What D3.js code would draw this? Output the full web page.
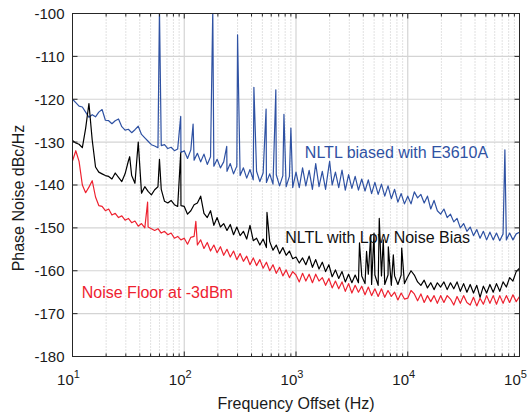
<!DOCTYPE html>
<html>
<head>
<meta charset="utf-8">
<script src="https://cdn.jsdelivr.net/npm/d3@7"></script>
<style>
  body { margin: 0; background: #fff; }
  svg { font-family: "Liberation Sans", Arial, sans-serif; }
  .tick-label { font-size: 15px; fill: #1a1a1a; }
  .axis-title { font-size: 16px; fill: #1a1a1a; }
  .trace-label { font-size: 16px; }
</style>
</head>
<body>
<div id="chart"></div>
<script>
var svgWidth = 531,
	svgHeight = 414;

var margin = { t: 13.5, r: 11.5, b: 57.5, l: 72.5 };

var width = svgWidth - margin.l - margin.r,
	height = svgHeight - margin.t - margin.b;

// ---------------------------------------------------------------
// data
// ---------------------------------------------------------------

// offset frequency grid, Hz
var freqGrid = [
	10, 10.7, 11.45, 12.25, 13.11, 14.03, 15.01, 16.07, 17.19, 18.4, 19.69, 21.07, 22.54, 24.12, 25.81, 27.62, 29.55,
	31.62, 33.84, 36.21, 38.75, 41.46, 44.37, 47.48, 50.8, 54.37, 58.18, 62.25, 66.61, 71.28, 76.27, 81.62, 87.33, 93.45,
	100, 107, 114.5, 122.5, 131.1, 140.3, 150.1, 160.7, 171.9, 184, 196.9, 210.7, 225.4, 241.2, 258.1, 276.2, 295.5,
	316.2, 338.4, 362.1, 387.5, 414.6, 443.7, 474.8, 508, 543.7, 581.8, 622.5, 666.1, 712.8, 762.7, 816.2, 873.3, 934.5,
	1000, 1070, 1145, 1225, 1311, 1403, 1501, 1607, 1719, 1840, 1969, 2107, 2254, 2412, 2581, 2762, 2955,
	3162, 3384, 3621, 3875, 4146, 4437, 4748, 5080, 5437, 5818, 6225, 6661, 7128, 7627, 8162, 8733, 9345,
	10000, 10700, 11450, 12250, 13110, 14030, 15010, 16070, 17190, 18400, 19690, 21070, 22540, 24120, 25810, 27620, 29550,
	31620, 33840, 36210, 38750, 41460, 44370, 47480, 50800, 54370, 58180, 62250, 66610, 71280, 76270, 81620, 87330, 93450,
	100000
];

// NLTL biased with E3610A, dBc/Hz
var biasedE3610A = [
	-120.0, -120.8, -121.6, -121.8, -123.0, -124.2, -123.6, -124.1, -123.0, -122.4, -124.9, -125.0, -125.7, -125.0, -124.6, -126.4, -127.2,
	-127.0, -127.8, -127.1, -126.3, -128.2, -129.0, -129.8, -130.6, -130.9, -131.3, -130.8, -130.6, -131.5, -131.2, -132.0, -131.6, -132.4,
	-132.0, -133.8, -131.8, -134.2, -132.6, -134.6, -132.8, -135.2, -133.4, -135.6, -134.0, -136.0, -134.6, -136.8, -135.0, -137.4, -135.6,
	-137.8, -136.0, -138.4, -136.4, -138.8, -136.8, -139.2, -137.2, -139.4, -137.4, -139.8, -137.6, -140.2, -137.8, -140.4, -138.0, -140.6,
	-137.0, -140.6, -136.0, -140.2, -136.6, -141.0, -135.0, -140.4, -136.8, -141.0, -135.6, -140.0, -137.0, -140.6, -136.5, -141.2, -137.6,
	-140.8, -138.0, -141.2, -138.6, -141.4, -138.8, -142.0, -139.4, -142.2, -139.8, -142.6, -140.2, -143.2, -141.0, -144.0, -142.0, -144.4,
	-142.6, -144.4, -141.6, -143.0, -142.2, -144.2, -142.6, -145.6, -143.6, -146.0, -146.8, -145.6, -147.6, -146.8, -148.6, -147.8, -150.0,
	-149.0, -150.8, -149.8, -151.8, -150.4, -152.4, -150.8, -152.8, -151.0, -152.8, -151.2, -153.0, -151.4, -152.8, -151.2, -152.8, -151.4,
	-151.0
];
var biasedSpikes = [
	[60, -99], [93, -124], [120, -125.8], [180, -99], [240, -131], [300, -105], [420, -117.2],
	[540, -122.3], [660, -117.8], [780, -123.5], [900, -126.7], [2000, -134.5], [74000, -131.8]
];

// NLTL with Low Noise Bias, dBc/Hz
var lowNoiseBias = [
	-129.6, -130.2, -130.5, -131.3, -126.8, -121.0, -129.5, -135.8, -137.0, -137.4, -137.8, -138.0, -138.6, -137.2, -138.2, -139.2, -137.4,
	-134.4, -137.8, -139.6, -130.0, -141.9, -140.4, -141.5, -142.3, -141.1, -140.4, -141.0, -143.8, -144.2, -143.6, -144.6, -145.0, -144.8,
	-145.0, -146.8, -146.0, -144.6, -144.2, -142.6, -146.6, -147.6, -146.0, -149.4, -147.6, -149.8, -149.0, -150.6, -149.2, -151.6, -149.8,
	-151.8, -150.8, -152.6, -149.4, -153.0, -152.4, -154.0, -152.6, -154.6, -153.2, -155.2, -154.0, -156.0, -154.6, -156.4, -155.4, -157.2,
	-156.8, -158.2, -157.0, -158.6, -156.6, -159.2, -157.4, -159.6, -158.0, -160.2, -158.6, -161.4, -159.8, -161.8, -160.2, -162.6, -160.8,
	-162.8, -161.0, -162.8, -161.2, -163.0, -160.8, -163.2, -161.0, -163.4, -161.2, -163.2, -161.0, -163.4, -161.2, -163.2, -161.0, -163.0,
	-161.4, -160.0, -161.0, -162.6, -163.4, -162.2, -164.0, -162.8, -164.4, -162.8, -163.8, -162.6, -164.4, -162.8, -164.2, -162.6, -164.8,
	-163.0, -165.0, -163.2, -165.2, -163.4, -166.2, -163.6, -165.2, -163.2, -165.0, -163.0, -164.8, -162.6, -163.8, -161.6, -162.4, -160.2,
	-159.4
];
var lowNoiseSpikes = [
	[32.5, -133.4], [60, -134], [93, -132.5], [550, -146.4], [3700, -153.5], [4280, -155.5], [4660, -151.6],
	[4990, -151.2], [5560, -147.8], [6040, -152.8], [6700, -154.4], [7430, -156.3], [8830, -154.7]
];

// Noise Floor at -3dBm, dBc/Hz
var noiseFloor = [
	-134.4, -132.0, -134.5, -140.0, -141.8, -140.5, -139.0, -142.8, -144.8, -145.0, -146.0, -145.6, -147.0, -146.6, -147.6, -147.2, -148.2,
	-147.8, -148.8, -148.4, -149.6, -149.0, -150.0, -149.8, -150.2, -150.6, -150.2, -151.2, -150.8, -151.6, -151.2, -152.4, -152.0, -152.8,
	-152.4, -153.8, -152.2, -152.0, -154.0, -152.8, -154.8, -153.4, -155.4, -154.0, -155.8, -154.4, -156.4, -155.0, -156.8, -155.4, -157.4,
	-156.0, -157.8, -156.6, -158.6, -157.0, -158.8, -157.4, -159.4, -158.0, -160.0, -158.6, -160.6, -159.2, -161.2, -159.8, -161.6, -160.2,
	-161.0, -162.6, -160.6, -162.4, -160.8, -162.8, -160.8, -162.4, -161.6, -163.4, -161.8, -164.0, -162.4, -164.2, -162.6, -164.8, -163.0,
	-165.2, -163.4, -165.0, -163.6, -165.6, -163.8, -165.8, -164.2, -166.0, -164.2, -166.2, -164.6, -166.0, -165.0, -166.8, -165.2, -166.6,
	-166.4, -164.6, -165.4, -167.0, -165.4, -167.4, -165.8, -167.2, -165.8, -167.6, -165.8, -167.4, -165.8, -166.6, -168.0, -166.0, -167.6,
	-165.8, -167.4, -168.0, -166.2, -168.2, -166.4, -167.8, -165.8, -167.6, -165.8, -167.8, -165.8, -167.6, -165.8, -167.4, -165.6, -167.2,
	-166.0
];
var noiseFloorSpikes = [[47, -144], [127, -148.5]];

var yTicks = [-100, -110, -120, -130, -140, -150, -160, -170, -180];
var xDecades = [10, 100, 1000, 10000, 100000];
var xExponents = ['1', '2', '3', '4', '5'];

var traceLabels = [
	{ text: 'NLTL biased with E3610A', f: 1200, v: -133.6, color: '#2f52a3' },
	{ text: 'NLTL with Low Noise Bias', f: 800, v: -153.5, color: '#111111' },
	{ text: 'Noise Floor at -3dBm', f: 12.1, v: -166.3, color: '#ee2230' }
];

// ---------------------------------------------------------------
// chart
// ---------------------------------------------------------------

var svg = d3.select('#chart')
	.append('svg')
	.attr('width', svgWidth)
	.attr('height', svgHeight);

var chartGroup = svg.append('g')
	.attr('transform', `translate(${margin.l},${margin.t})`);

var xScale = d3.scaleLog().domain([10, 100000]).range([0, width]);
var yScale = d3.scaleLinear().domain([-180, -100]).range([height, 0]);

var minorTicks = xScale.ticks().filter(t => xDecades.indexOf(t) < 0);

// grid
chartGroup.append('g').selectAll('line')
	.data(minorTicks)
	.enter()
	.append('line')
	.attr('x1', d => xScale(d)).attr('x2', d => xScale(d))
	.attr('y1', 0).attr('y2', height)
	.attr('stroke', '#b5b5b5')
	.attr('stroke-width', 0.8)
	.attr('stroke-dasharray', '1,2');

chartGroup.append('g').selectAll('line')
	.data(xDecades.slice(1, -1))
	.enter()
	.append('line')
	.attr('x1', d => xScale(d)).attr('x2', d => xScale(d))
	.attr('y1', 0).attr('y2', height)
	.attr('stroke', '#d4d4d4')
	.attr('stroke-width', 1.2);

chartGroup.append('g').selectAll('line')
	.data(yTicks.slice(1, -1))
	.enter()
	.append('line')
	.attr('x1', 0).attr('x2', width)
	.attr('y1', d => yScale(d)).attr('y2', d => yScale(d))
	.attr('stroke', '#d4d4d4')
	.attr('stroke-width', 1.2);

// traces
svg.append('defs').append('clipPath')
	.attr('id', 'plotClip')
	.append('rect')
	.attr('width', width).attr('height', height);

function buildTrace(values, spikes) {
	var pts = freqGrid.map((f, i) => [f, values[i]]);
	return pts.concat(spikes).sort((a, b) => a[0] - b[0]);
}

var line = d3.line()
	.x(d => xScale(d[0]))
	.y(d => yScale(d[1]));

var traces = [
	{ data: buildTrace(biasedE3610A, biasedSpikes), color: '#2f52a3' },
	{ data: buildTrace(lowNoiseBias, lowNoiseSpikes), color: '#000000' },
	{ data: buildTrace(noiseFloor, noiseFloorSpikes), color: '#ee2230' }
];

chartGroup.append('g')
	.attr('clip-path', 'url(#plotClip)')
	.selectAll('path')
	.data(traces)
	.enter()
	.append('path')
	.attr('d', d => line(d.data))
	.attr('fill', 'none')
	.attr('stroke', d => d.color)
	.attr('stroke-width', 1.2)
	.attr('stroke-linejoin', 'round');

// frame with inward ticks
var frame = chartGroup.append('g').attr('stroke', '#262626').attr('fill', 'none');
frame.append('rect').attr('width', width).attr('height', height).attr('stroke-width', 1);

yTicks.forEach(t => {
	frame.append('line').attr('x1', 0).attr('x2', 5).attr('y1', yScale(t)).attr('y2', yScale(t));
	frame.append('line').attr('x1', width - 5).attr('x2', width).attr('y1', yScale(t)).attr('y2', yScale(t));
});
xDecades.forEach(t => {
	frame.append('line').attr('x1', xScale(t)).attr('x2', xScale(t)).attr('y1', height).attr('y2', height - 5);
	frame.append('line').attr('x1', xScale(t)).attr('x2', xScale(t)).attr('y1', 0).attr('y2', 5);
});
minorTicks.forEach(t => {
	frame.append('line').attr('x1', xScale(t)).attr('x2', xScale(t)).attr('y1', height).attr('y2', height - 3);
	frame.append('line').attr('x1', xScale(t)).attr('x2', xScale(t)).attr('y1', 0).attr('y2', 3);
});

// tick labels
chartGroup.append('g').selectAll('text')
	.data(yTicks)
	.enter()
	.append('text')
	.classed('tick-label', true)
	.attr('x', -8)
	.attr('y', d => yScale(d))
	.attr('dy', '0.36em')
	.attr('text-anchor', 'end')
	.text(d => d);

var xLabels = chartGroup.append('g').selectAll('text')
	.data(xDecades)
	.enter()
	.append('text')
	.classed('tick-label', true)
	.attr('x', d => xScale(d) - 4)
	.attr('y', height + 28)
	.attr('text-anchor', 'middle');
xLabels.append('tspan').text('10');
xLabels.append('tspan')
	.attr('dy', -7)
	.style('font-size', '11px')
	.text((d, i) => xExponents[i]);

// axis titles
chartGroup.append('text')
	.classed('axis-title', true)
	.attr('x', width / 2)
	.attr('y', height + 52)
	.attr('text-anchor', 'middle')
	.text('Frequency Offset (Hz)');

chartGroup.append('text')
	.classed('axis-title', true)
	.attr('transform', `translate(-49,${height / 2 + 13})rotate(-90)`)
	.attr('text-anchor', 'middle')
	.text('Phase Noise dBc/Hz');

// trace labels
chartGroup.append('g').selectAll('text')
	.data(traceLabels)
	.enter()
	.append('text')
	.classed('trace-label', true)
	.attr('x', d => xScale(d.f))
	.attr('y', d => yScale(d.v))
	.attr('fill', d => d.color)
	.text(d => d.text);
</script>
</body>
</html>
